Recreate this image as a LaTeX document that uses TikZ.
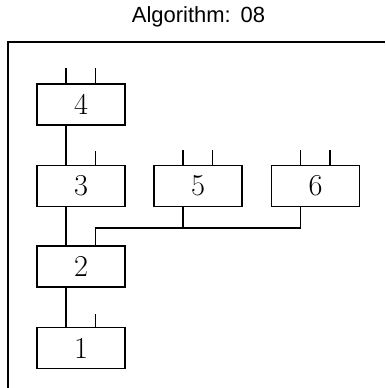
\documentclass[tikz,border=0pt]{standalone}
\usepackage{fontspec}
\newfontfamily\titlefont{Liberation Sans}
\usetikzlibrary{calc, positioning}

\tikzset{
  blk/.style={draw, line width=0.6pt, minimum width=1.76cm, minimum height=0.82cm,
              inner sep=0pt, font=\LARGE},
  wire/.style={line width=0.6pt}
}

\begin{document}
\begin{tikzpicture}[wire]
  \useasboundingbox (0,0) rectangle (7.7,7.76);

  % Title and frame
  \node[font=\titlefont\fontsize{12.5}{14}\selectfont] (ttl) at (3.97, 7.42) {Algorithm:\hspace{0.45em}08};
  \draw (7.7, 6.92) -- (0.16, 6.92) -- (0.16, 0);

  % Blocks
  \node[blk] (b4) at (1.62, 5.67) {4};
  \node[blk] (b3) at (1.62, 4.04) {3};
  \node[blk] (b5) at (3.96, 4.04) {5};
  \node[blk] (b6) at (6.31, 4.04) {6};
  \node[blk] (b2) at (1.62, 2.43) {2};
  \node[blk] (b1) at (1.62, 0.80) {1};

  % Input stubs
  \draw ([xshift=-0.3cm]b4.north) -- ++(0, 0.3);
  \draw ([xshift=0.29cm]b4.north) -- ++(0, 0.3);
  \draw ([xshift=0.29cm]b3.north) -- ++(0, 0.28);
  \draw ([xshift=-0.3cm]b5.north) -- ++(0, 0.3);
  \draw ([xshift=0.29cm]b5.north) -- ++(0, 0.3);
  \draw ([xshift=-0.3cm]b6.north) -- ++(0, 0.3);
  \draw ([xshift=0.29cm]b6.north) -- ++(0, 0.3);
  \draw ([xshift=0.29cm]b1.north) -- ++(0, 0.26);

  % Links
  \draw ([xshift=-0.3cm]b4.south) -- ([xshift=-0.3cm]b3.north);
  \draw ([xshift=-0.3cm]b3.south) -- ([xshift=-0.3cm]b2.north);
  \draw ([xshift=-0.3cm]b2.south) -- ([xshift=-0.3cm]b1.north);
  \coordinate (bus) at ([xshift=-0.3cm, yshift=-0.42cm]b6.south);
  \draw ([xshift=-0.3cm]b6.south) -- (bus) -| ([xshift=0.29cm]b2.north);
  \draw ([xshift=-0.3cm]b5.south) -- ([xshift=-0.3cm]b5.south |- bus);
\end{tikzpicture}
\end{document}
